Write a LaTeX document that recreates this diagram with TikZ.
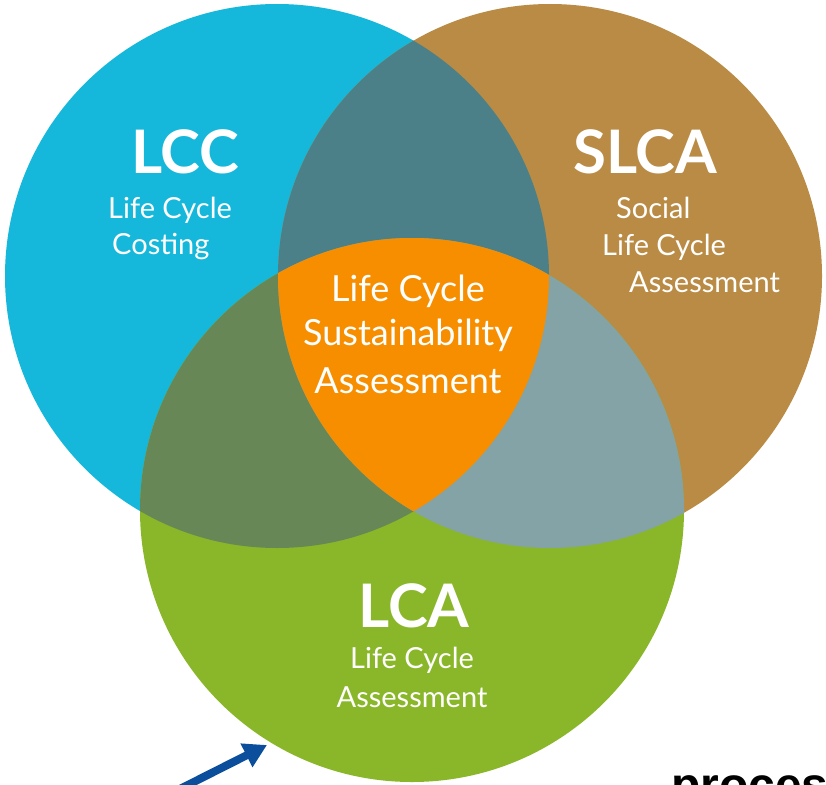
\documentclass[tikz,border=0pt]{standalone}
\usepackage{fontspec}
\setmainfont{Lato}
\newfontfamily\arialbold{Liberation Sans}
\usetikzlibrary{arrows.meta}
\definecolor{cblue}{HTML}{15B8DA}
\definecolor{cbrown}{HTML}{B98B45}
\definecolor{cgreen}{HTML}{8AB72A}
\definecolor{corange}{HTML}{F78E00}
\definecolor{cbb}{HTML}{4C8088}
\definecolor{cbg}{HTML}{678856}
\definecolor{csg}{HTML}{83A3A7}
\definecolor{carrow}{HTML}{0B4F9C}
\tikzset{
  ttl/.style={text=white, inner sep=0pt, anchor=base west, font=\bfseries\fontsize{60}{60}\selectfont},
  sub/.style={text=white, inner sep=0pt, anchor=base west, font=\fontsize{29}{29}\selectfont},
  mid/.style={text=white, inner sep=0pt, anchor=base, font=\fontsize{36}{36}\selectfont},
  arr/.style={carrow, line width=8pt, -{Triangle[length=23pt,width=25pt]}}
}
\begin{document}
\begin{tikzpicture}[x=1pt,y=-1pt]
\useasboundingbox (0,0) rectangle (826,784);
\clip (0,0) rectangle (826,784);
\fill[white] (0,0) rectangle (826,784);
\coordinate (B) at (277,276);
\coordinate (S) at (550,276);
\coordinate (G) at (412,510);
\def\R{272pt}
\fill[cblue] (B) circle[radius=\R];
\fill[cbrown] (S) circle[radius=\R];
\fill[cgreen] (G) circle[radius=\R];
\begin{scope}\clip (B) circle[radius=\R]; \fill[cbb] (S) circle[radius=\R];\end{scope}
\begin{scope}\clip (B) circle[radius=\R]; \fill[cbg] (G) circle[radius=\R];\end{scope}
\begin{scope}\clip (S) circle[radius=\R]; \fill[csg] (G) circle[radius=\R];\end{scope}
\begin{scope}\clip (B) circle[radius=\R]; \clip (S) circle[radius=\R]; \fill[corange] (G) circle[radius=\R];\end{scope}

% LCC
\node[ttl] (lcc) at (131,173) {LCC};
\node[sub] (lcc1) at (108,218) {Life Cycle};
\node[sub] (lcc2) at (112,254) {Costing};
% SLCA
\node[ttl] (slca) at (573,173) {SLCA};
\node[sub] (slca1) at (616,218) {Social};
\node[sub] (slca2) at (602,255) {Life Cycle};
\node[sub] (slca3) at (629,292) {Assessment};
% center
\node[mid] (c1) at (408,301) {Life Cycle};
\node[mid] (c2) at (408,345) {Sustainability};
\node[mid] (c3) at (408,393) {Assessment};
% LCA
\node[ttl, anchor=base] (lca) at (414,627) {LCA};
\node[sub, anchor=base] (lca1) at (412,668) {Life Cycle};
\node[sub, anchor=base] (lca2) at (412,707) {Assessment};

% bottom text
\node[inner sep=0pt, anchor=base west, font=\arialbold\bfseries\fontsize{48}{48}\selectfont] (proc) at (671,801) {process};

% arrow
\coordinate (atail) at (164,797);
\coordinate (atip) at (267,745);
\draw[arr] (atail) -- (atip);
\end{tikzpicture}
\end{document}
